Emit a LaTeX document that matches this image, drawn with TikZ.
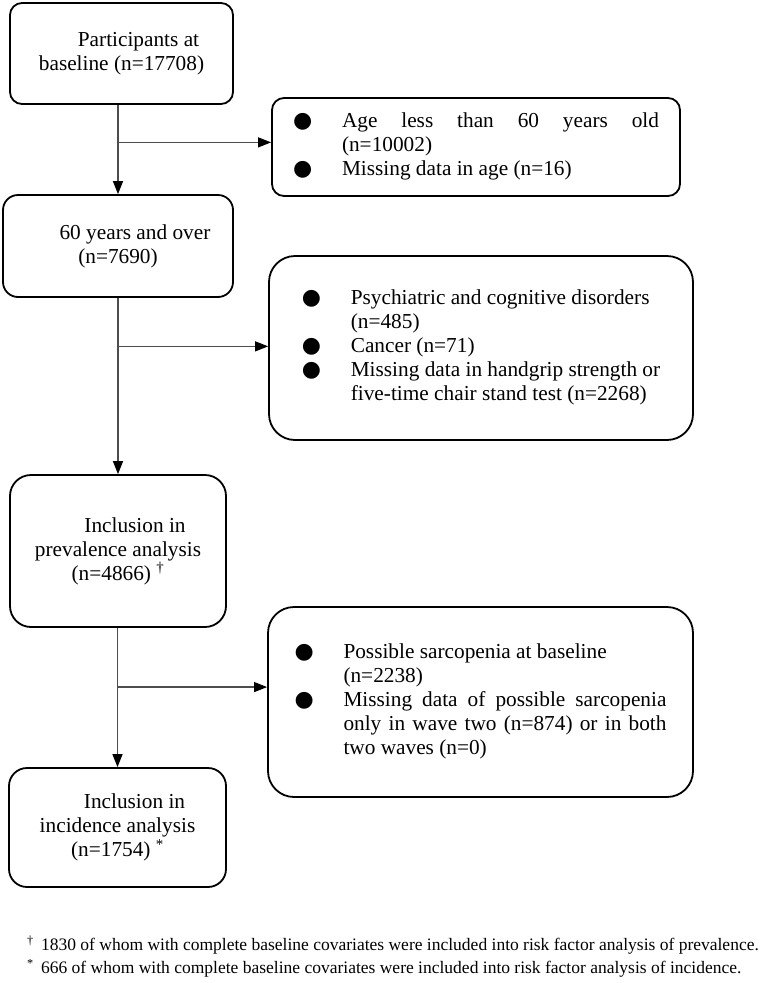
\documentclass[tikz,border=0pt]{standalone}
\usepackage{fontspec}
\setmainfont{Liberation Serif}
\newfontfamily\dotfont{DejaVu Sans}
\usetikzlibrary{arrows.meta}

\definecolor{linegray}{HTML}{4D4D4D}
\newcommand{\dotitem}{{\dotfont\fontsize{22}{24}\selectfont ●}}
\newcommand{\fillline}[2]{\makebox[#1][s]{#2}}

\begin{document}
\begin{tikzpicture}[x=1pt, y=-1pt, >={Triangle[length=13pt, width=10pt, color=black]},
    font=\fontsize{21.3}{24}\selectfont,
    stage/.style={draw, line width=1.8pt, rounded corners=#1, inner sep=0pt, align=center},
    stage/.default=14pt,
    excl/.style={draw, line width=1.8pt, rounded corners=#1, inner sep=0pt},
    excl/.default=26pt,
    flow/.style={->, draw=linegray, line width=1.2pt}]
    \useasboundingbox (0,0) rectangle (765,983);

    % Stages of the sample
    \node[stage=12pt, minimum width=223pt, minimum height=101pt] (Stage-1) at (121.5,53.5)
        {\hspace*{34pt}Participants at\\baseline (n=17708)};
    \node[stage=15pt, minimum width=230pt, minimum height=102pt] (Stage-2) at (118,246)
        {\hspace*{34pt}60 years and over\\(n=7690)};
    \node[stage=21pt, minimum width=216pt, minimum height=152pt] (Stage-3) at (118,551)
        {\hspace*{34pt}Inclusion in\\prevalence analysis\\(n=4866) \textsuperscript{†}};
    \node[stage=18pt, minimum width=217pt, minimum height=119pt] (Stage-4) at (117.5,827.5)
        {\hspace*{34pt}Inclusion in\\incidence analysis\\(n=1754) \textsuperscript{*}};

    % Exclusions
    \node[excl=12pt, minimum width=408pt, minimum height=98pt] (Excl-1) at (476,147)
        {\begin{tabular}{@{}p{49pt}@{}l@{}}
            \dotitem & \fillline{317pt}{Age less than 60 years old}\\
                     & (n=10002)\\
            \dotitem & Missing data in age (n=16)
        \end{tabular}};
    \node[excl, minimum width=424pt, minimum height=184pt] (Excl-2) at (481,348)
        {\begin{tabular}{@{}p{49pt}@{}l@{}}
            \dotitem & Psychiatric and cognitive disorders\\
                     & (n=485)\\
            \dotitem & Cancer (n=71)\\
            \dotitem & Missing data in handgrip strength or\\
                     & five-time chair stand test (n=2268)
        \end{tabular}};
    \node[excl, minimum width=425pt, minimum height=190pt] (Excl-3) at (480.5,702)
        {\begin{tabular}{@{}p{49pt}@{}l@{}}
            \dotitem & Possible sarcopenia at baseline\\
                     & (n=2238)\\
            \dotitem & \fillline{323pt}{Missing data of possible sarcopenia}\\
                     & \fillline{323pt}{only in wave two (n=874) or in both}\\
                     & two waves (n=0)
        \end{tabular}};

    % Draw the flow down and the branches to the exclusions
    \foreach \i/\j/\p in {1/2/0.42, 2/3/0.275, 3/4/0.425}
    {
        \draw[flow] (Stage-\i.south -| Stage-\j.north) -- coordinate[pos=\p] (Split-\i) (Stage-\j.north);
        \draw[flow] (Split-\i) -- (Split-\i -| Excl-\i.west);
    }

    % Footnotes
    \node[anchor=west, align=left, inner sep=0pt, font=\fontsize{17.5}{23}\selectfont] (Notes) at (27,956.5)
        {\textsuperscript{†}\, 1830 of whom with complete baseline covariates were included into risk factor analysis of prevalence.\\
         \textsuperscript{*}\, 666 of whom with complete baseline covariates were included into risk factor analysis of incidence.};
\end{tikzpicture}
\end{document}
